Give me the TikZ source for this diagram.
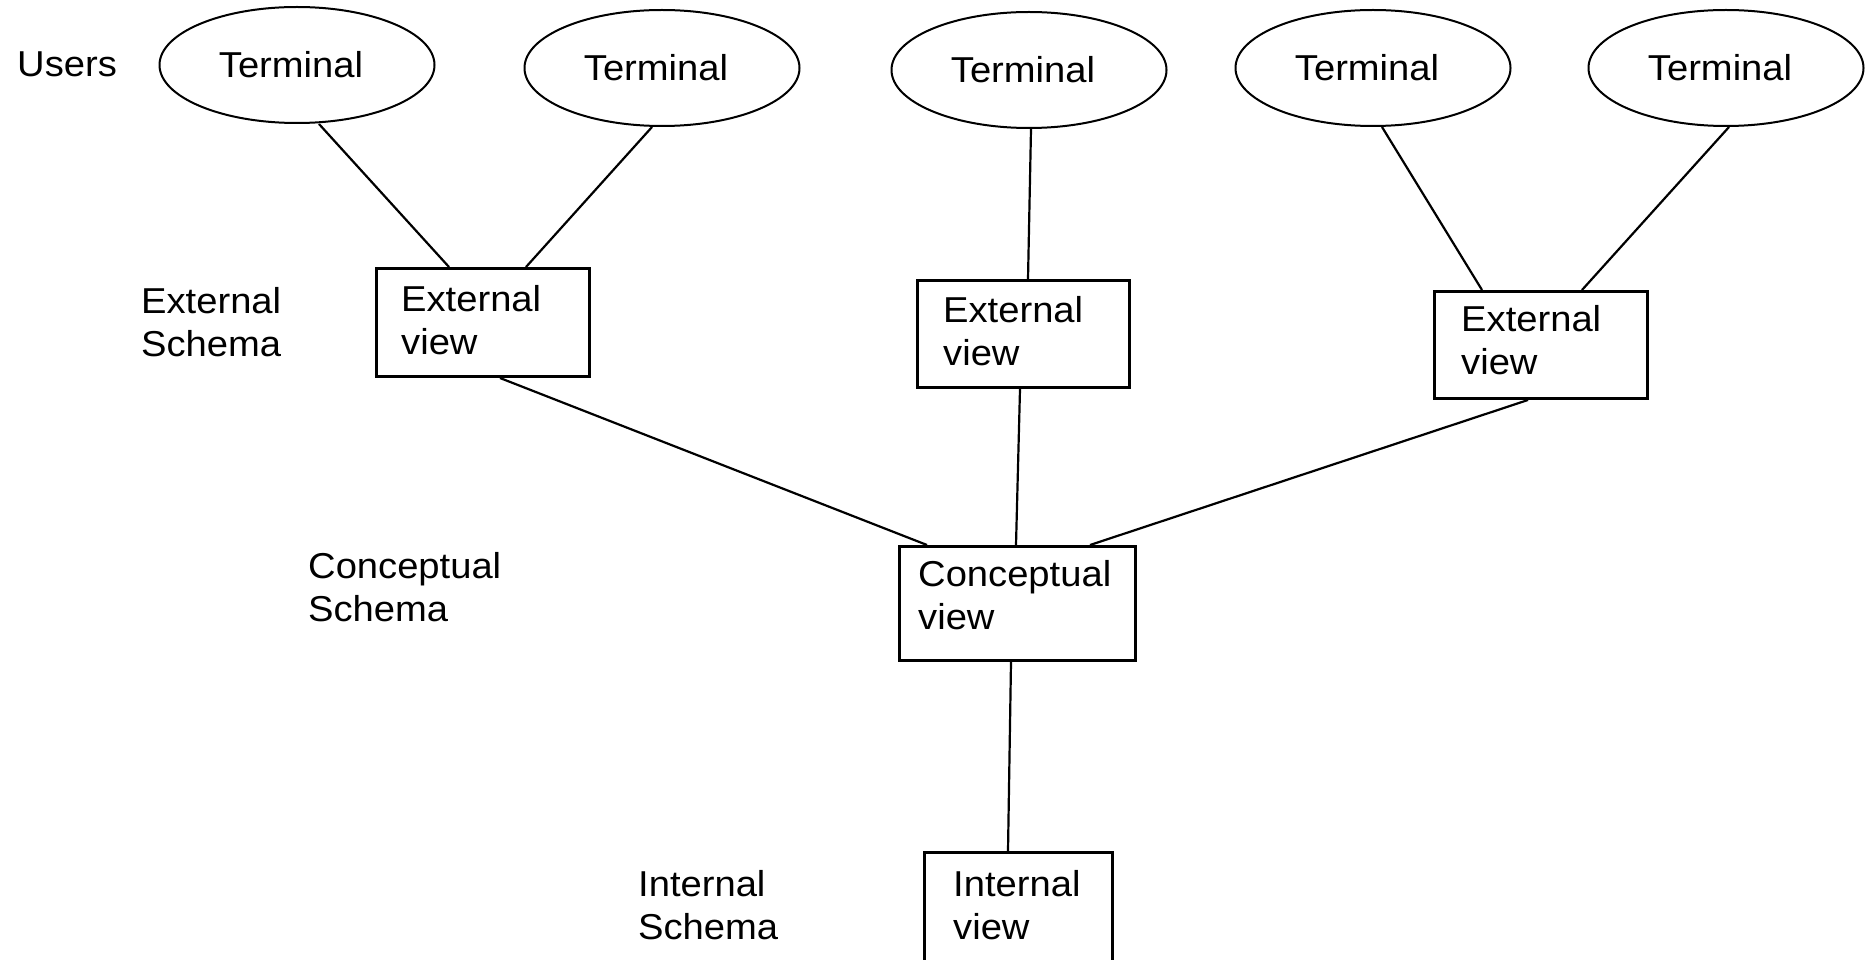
\documentclass[tikz,border=0pt]{standalone}
\usepackage{fontspec}
\setmainfont{Liberation Sans}[FakeStretch=1.06]
\usetikzlibrary{shapes.geometric}
\begin{document}
\begin{tikzpicture}[x=1pt,y=-1pt,
  lbl/.style={anchor=north west, inner sep=0pt, align=left,
    font=\fontsize{36}{43}\selectfont},
  terminal/.style={draw, ellipse, line width=2pt, minimum width=275pt,
    minimum height=116pt, inner sep=0pt, font=\fontsize{36}{43}\selectfont,
    execute at end node=\hspace*{12pt}},
  viewbox/.style={draw, rectangle, line width=3pt, anchor=north west, inner sep=0pt},
  link/.style={line width=2.2pt}]
\clip (0,0) rectangle (1866,960);
\fill[white] (0,0) rectangle (1866,960);

% user terminals
\node[terminal] (e1) at (297,65) {Terminal};
\node[terminal] (e2) at (662,68) {Terminal};
\node[terminal] (e3) at (1029,70) {Terminal};
\node[terminal] (e4) at (1373,68) {Terminal};
\node[terminal] (e5) at (1726,68) {Terminal};

% view boxes
\node[viewbox, minimum width=213pt, minimum height=108pt] (ev1) at (375,267) {};
\node[viewbox, minimum width=212pt, minimum height=107pt] (ev2) at (916,279) {};
\node[viewbox, minimum width=213pt, minimum height=107pt] (ev3) at (1433,290) {};
\node[viewbox, minimum width=236pt, minimum height=114pt] (cv) at (898,545) {};
\node[viewbox, minimum width=188pt, minimum height=150pt] (iv) at (923,851) {};

% texts inside the boxes
\node[lbl] (ev1t) at (401,285) {External\\view};
\node[lbl] (ev2t) at (943,296) {External\\view};
\node[lbl] (ev3t) at (1461,305) {External\\view};
\node[lbl] (cvt) at (918,560) {Conceptual\\view};
\node[lbl] (ivt) at (953,870) {Internal\\view};

% level captions
\node[lbl] (users) at (17,52) {Users};
\node[lbl] (extlbl) at (141,287) {External\\Schema};
\node[lbl] (conlbl) at (308,552) {Conceptual\\Schema};
\node[lbl] (intlbl) at (638,870) {Internal\\Schema};

% connectors
\draw[link] ([xshift=22pt]e1.south) -- ([xshift=74pt]ev1.north west);
\draw[link] ([xshift=-10pt]e2.south) -- ([xshift=151pt]ev1.north west);
\draw[link] ([xshift=2pt]e3.south) -- ([xshift=112pt]ev2.north west);
\draw[link] ([xshift=9pt]e4.south) -- ([xshift=49pt]ev3.north west);
\draw[link] ([xshift=3pt]e5.south) -- ([xshift=149pt]ev3.north west);
\draw[link] ([xshift=125pt]ev1.south west) -- ([xshift=29pt]cv.north west);
\draw[link] ([xshift=104pt]ev2.south west) -- ([xshift=118pt]cv.north west);
\draw[link] ([xshift=95pt]ev3.south west) -- ([xshift=192pt]cv.north west);
\draw[link] ([xshift=113pt]cv.south west) -- ([xshift=85pt]iv.north west);
\end{tikzpicture}
\end{document}
